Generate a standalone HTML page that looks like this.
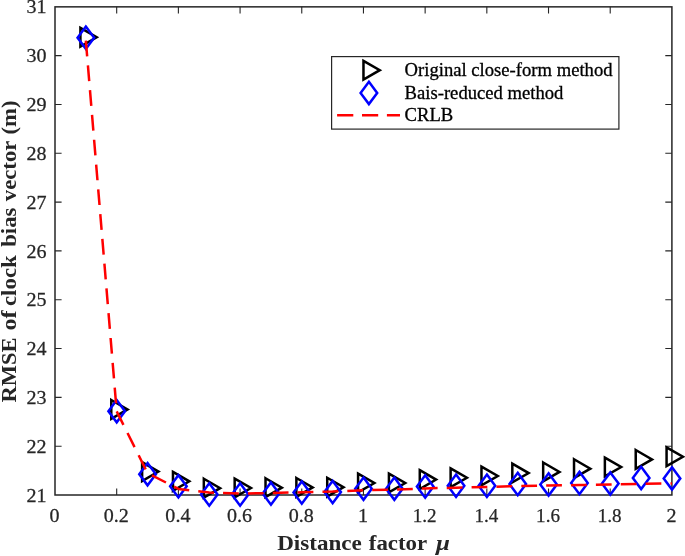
<!DOCTYPE html>
<html><head><meta charset="utf-8"><title>RMSE of clock bias vector</title>
<style>html,body{margin:0;padding:0;background:#fff}svg{display:block}text{font-family:"Liberation Serif","DejaVu Serif",serif}</style></head><body>
<svg width="685" height="556" viewBox="0 0 685 556">
<rect width="685" height="556" fill="#fff"/>
<g stroke="#262626" stroke-width="1.1" fill="none">
<rect x="55.0" y="6.85" width="616.9" height="488.15" stroke-width="1.5"/>
<path d="M116.69 495.0v-6.6M116.69 6.85v6.6M178.38 495.0v-6.6M178.38 6.85v6.6M240.07 495.0v-6.6M240.07 6.85v6.6M301.76 495.0v-6.6M301.76 6.85v6.6M363.45 495.0v-6.6M363.45 6.85v6.6M425.14 495.0v-6.6M425.14 6.85v6.6M486.83 495.0v-6.6M486.83 6.85v6.6M548.52 495.0v-6.6M548.52 6.85v6.6M610.21 495.0v-6.6M610.21 6.85v6.6M55.0 446.18h6.6M671.9 446.18h-6.6M55.0 397.37h6.6M671.9 397.37h-6.6M55.0 348.56h6.6M671.9 348.56h-6.6M55.0 299.74h6.6M671.9 299.74h-6.6M55.0 250.92h6.6M671.9 250.92h-6.6M55.0 202.11h6.6M671.9 202.11h-6.6M55.0 153.29h6.6M671.9 153.29h-6.6M55.0 104.48h6.6M671.9 104.48h-6.6M55.0 55.66h6.6M671.9 55.66h-6.6"/>
</g>
<g fill="#262626" font-size="19.1" stroke="#262626" stroke-width="0.25">
<text transform="translate(46.5 501.60) scale(1.05 1)" text-anchor="end">21</text>
<text transform="translate(46.5 452.78) scale(1.05 1)" text-anchor="end">22</text>
<text transform="translate(46.5 403.97) scale(1.05 1)" text-anchor="end">23</text>
<text transform="translate(46.5 355.16) scale(1.05 1)" text-anchor="end">24</text>
<text transform="translate(46.5 306.34) scale(1.05 1)" text-anchor="end">25</text>
<text transform="translate(46.5 257.52) scale(1.05 1)" text-anchor="end">26</text>
<text transform="translate(46.5 208.71) scale(1.05 1)" text-anchor="end">27</text>
<text transform="translate(46.5 159.89) scale(1.05 1)" text-anchor="end">28</text>
<text transform="translate(46.5 111.08) scale(1.05 1)" text-anchor="end">29</text>
<text transform="translate(46.5 62.27) scale(1.05 1)" text-anchor="end">30</text>
<text transform="translate(46.5 13.45) scale(1.05 1)" text-anchor="end">31</text>
<text transform="translate(54.50 521.6) scale(1.05 1)" text-anchor="middle">0</text>
<text transform="translate(116.19 521.6) scale(1.05 1)" text-anchor="middle">0.2</text>
<text transform="translate(177.88 521.6) scale(1.05 1)" text-anchor="middle">0.4</text>
<text transform="translate(239.57 521.6) scale(1.05 1)" text-anchor="middle">0.6</text>
<text transform="translate(301.26 521.6) scale(1.05 1)" text-anchor="middle">0.8</text>
<text transform="translate(362.95 521.6) scale(1.05 1)" text-anchor="middle">1</text>
<text transform="translate(424.64 521.6) scale(1.0 1)" text-anchor="middle">1.2</text>
<text transform="translate(486.33 521.6) scale(1.0 1)" text-anchor="middle">1.4</text>
<text transform="translate(548.02 521.6) scale(1.0 1)" text-anchor="middle">1.6</text>
<text transform="translate(609.71 521.6) scale(1.0 1)" text-anchor="middle">1.8</text>
<text transform="translate(671.40 521.6) scale(1.05 1)" text-anchor="middle">2</text>
</g>
<g font-size="22.0" font-weight="bold" fill="#262626">
<text transform="translate(15.6 402.58) rotate(-90) scale(1.024 1)">RMSE</text>
<text transform="translate(15.6 330.44) rotate(-90) scale(1.095 1)">of</text>
<text transform="translate(15.6 306.06) rotate(-90) scale(1.042 1)">clock</text>
<text transform="translate(15.6 246.75) rotate(-90) scale(1.031 1)">bias</text>
<text transform="translate(15.6 201.20) rotate(-90) scale(1.034 1)">vector</text>
<text transform="translate(15.6 134.51) rotate(-90) scale(1.037 1)">(m)</text>
<text transform="translate(277.21 550.0) scale(1.048 1)">Distance</text>
<text transform="translate(368.78 550.0) scale(1.041 1)">factor</text>
<text transform="translate(435.88 550.0) scale(1.135 1)" font-style="italic">μ</text>
</g>
<path fill="none" stroke="#000" stroke-width="2.5" stroke-miterlimit="10" d="M80.42 27.83L96.72 37.23L80.42 46.63ZM111.27 400.03L127.57 409.43L111.27 418.83ZM142.12 462.19L158.42 471.59L142.12 480.99ZM172.97 471.94L189.27 481.34L172.97 490.74ZM203.82 478.76L220.12 488.16L203.82 497.56ZM234.67 478.57L250.97 487.97L234.67 497.37ZM265.52 478.28L281.82 487.68L265.52 497.07ZM296.37 478.03L312.67 487.43L296.37 496.83ZM327.22 477.79L343.52 487.19L327.22 496.59ZM358.07 473.64L374.37 483.04L358.07 492.44ZM388.92 473.64L405.22 483.04L388.92 492.44ZM419.77 470.18L436.07 479.58L419.77 488.98ZM450.62 468.33L466.92 477.73L450.62 487.13ZM481.47 466.58L497.77 475.98L481.47 485.38ZM512.32 463.65L528.62 473.05L512.32 482.45ZM543.17 462.53L559.47 471.93L543.17 481.33ZM574.02 459.26L590.32 468.66L574.02 478.06ZM604.87 457.61L621.17 467.00L604.87 476.40ZM635.72 450.00L652.02 459.40L635.72 468.80ZM666.57 447.32L682.87 456.72L666.57 466.12Z"/>
<path fill="none" stroke="#00f" stroke-width="2.5" stroke-miterlimit="10" d="M85.85 26.56L94.15 37.71L85.85 48.86L77.55 37.71ZM116.70 399.99L125.00 411.14L116.70 422.29L108.40 411.14ZM147.55 463.07L155.85 474.22L147.55 485.37L139.25 474.22ZM178.40 475.16L186.70 486.31L178.40 497.46L170.10 486.31ZM209.25 483.35L217.55 494.50L209.25 505.65L200.95 494.50ZM240.10 483.35L248.40 494.50L240.10 505.65L231.80 494.50ZM270.95 482.38L279.25 493.52L270.95 504.67L262.65 493.52ZM301.80 481.40L310.10 492.55L301.80 503.70L293.50 492.55ZM332.65 480.96L340.95 492.11L332.65 503.26L324.35 492.11ZM363.50 477.50L371.80 488.65L363.50 499.80L355.20 488.65ZM394.35 477.50L402.65 488.65L394.35 499.80L386.05 488.65ZM425.20 475.35L433.50 486.50L425.20 497.65L416.90 486.50ZM456.05 474.58L464.35 485.73L456.05 496.88L447.75 485.73ZM486.90 474.58L495.20 485.73L486.90 496.88L478.60 485.73ZM517.75 472.87L526.05 484.02L517.75 495.17L509.45 484.02ZM548.60 473.31L556.90 484.46L548.60 495.61L540.30 484.46ZM579.45 471.85L587.75 483.00L579.45 494.14L571.15 483.00ZM610.30 472.43L618.60 483.58L610.30 494.73L602.00 483.58ZM641.15 466.78L649.45 477.93L641.15 489.07L632.85 477.93ZM672.00 467.26L680.30 478.41L672.00 489.56L663.70 478.41Z"/>
<g fill="none" stroke="#f00" stroke-width="2.5" stroke-dasharray="15.75 9.115" stroke-linejoin="round">
<polyline points="85.85,40.64 116.70,411.38"/>
<polyline stroke-dashoffset="0.68" points="116.70,411.38 147.55,473.05 178.40,488.89 209.25,492.55 240.10,493.52 270.95,493.04 301.80,492.31 332.65,491.58 363.50,490.11 394.35,489.62 425.20,488.41 456.05,487.68 486.90,486.94 517.75,486.07 548.60,485.48 579.45,485.04 610.30,484.51 641.15,483.78 672.00,483.48"/>
</g>
<rect x="331.6" y="56.6" width="287.3" height="72.5" fill="#fff" stroke="#262626" stroke-width="1.2"/>
<path fill="none" stroke="#000" stroke-width="2.5" stroke-miterlimit="10" d="M363.47 60.80L379.77 70.20L363.47 79.60Z"/>
<path fill="none" stroke="#00f" stroke-width="2.5" stroke-miterlimit="10" d="M368.90 81.75L377.20 92.90L368.90 104.05L360.60 92.90Z"/>
<path fill="none" stroke="#f00" stroke-width="2.5" stroke-dasharray="16.2 8.7" d="M337.1 115.2H400"/>
<g fill="#000" font-size="18.2" stroke="#000" stroke-width="0.3">
<text transform="translate(404.6 76) scale(1.024 1)">Original close-form method</text>
<text transform="translate(404.6 98.6) scale(1.024 1)">Bais-reduced method</text>
<text transform="translate(404.6 120.6) scale(1.024 1)">CRLB</text>
</g>
</svg></body></html>
